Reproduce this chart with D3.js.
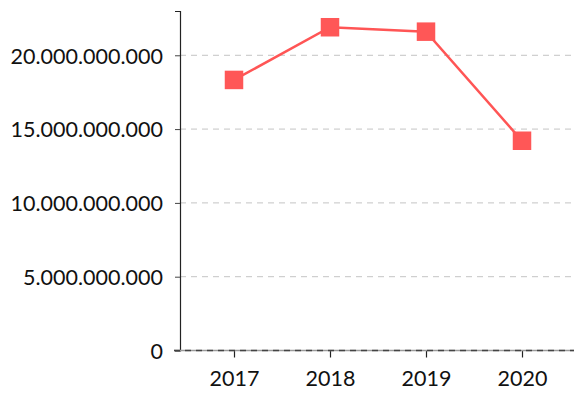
<!DOCTYPE html>
<html>
<head>
<meta charset="utf-8">
<script src="https://cdn.jsdelivr.net/npm/d3@7"></script>
<style>
  html, body { margin: 0; padding: 0; background: #fff; }
  svg { display: block; }
  text { font-family: Lato, "Open Sans", sans-serif; fill: #111; }
</style>
</head>
<body>
<svg id="chart" width="574" height="394"></svg>
<script>
// Yearly totals
const years = ["2017", "2018", "2019", "2020"];
const values = [18330000000, 21900000000, 21600000000, 14210000000];
const yTicks = [0, 5000000000, 10000000000, 15000000000, 20000000000];

const plot = { left: 180, right: 574, top: 11, bottom: 350.5 };

const svg = d3.select("#chart");

const x = d3.scalePoint().domain(years).range([186, 570]).padding(0.5);
const y = d3.scaleLinear().domain([0, 23000000000]).range([plot.bottom, plot.top]);

// Dotted thousands separator, e.g. 20.000.000.000
const fmt = d3.formatLocale({ decimal: ",", thousands: ".", grouping: [3], currency: ["", ""] }).format(",d");

// Horizontal gridlines
svg.append("g")
  .selectAll("line")
  .data(yTicks.filter(d => d > 0))
  .join("line")
  .attr("x1", plot.left).attr("x2", plot.right)
  .attr("y1", d => y(d)).attr("y2", d => y(d))
  .attr("stroke", "#c4c4c4")
  .attr("stroke-width", 1)
  .attr("stroke-dasharray", "6,5");

// Y axis
const yAxis = svg.append("g")
  .attr("transform", `translate(${plot.left},0)`)
  .call(d3.axisLeft(y).tickValues(yTicks).tickFormat(fmt).tickSizeOuter(0).tickSize(5).tickPadding(12));
yAxis.select(".domain").attr("stroke", "#222").attr("stroke-width", 1.2);
yAxis.selectAll(".tick line").attr("stroke", "#444");
yAxis.selectAll("text").style("font-size", "21.5px").attr("fill", "#111").attr("dy", "0.36em");

// X axis
const xAxis = svg.append("g")
  .attr("transform", `translate(0,${plot.bottom})`)
  .call(d3.axisBottom(x).tickSizeOuter(0).tickSize(7).tickPadding(13));
xAxis.select(".domain").remove();
xAxis.append("line")
  .attr("x1", 174).attr("x2", plot.right)
  .attr("stroke", "#9a9a9a").attr("stroke-width", 1.5);
xAxis.append("line")
  .attr("x1", 174).attr("x2", plot.right)
  .attr("stroke", "#444").attr("stroke-width", 1.5)
  .attr("stroke-dasharray", "6,5");
xAxis.selectAll(".tick line").attr("stroke", "#222").attr("stroke-width", 1.2);
xAxis.selectAll("text").style("font-size", "21.5px").attr("fill", "#111").attr("dy", "0.71em");

// Series line
const pts = years.map((yr, i) => ({ yr, v: values[i] }));
svg.append("path")
  .datum(pts)
  .attr("fill", "none")
  .attr("stroke", "#ff5555")
  .attr("stroke-width", 2.5)
  .attr("d", d3.line().x(d => x(d.yr)).y(d => y(d.v)));

// Square markers
const s = 18.5;
svg.append("g")
  .selectAll("rect")
  .data(pts)
  .join("rect")
  .attr("x", d => x(d.yr) - s / 2)
  .attr("y", d => y(d.v) - s / 2)
  .attr("width", s).attr("height", s)
  .attr("fill", "#ff5757");
</script>
</body>
</html>
